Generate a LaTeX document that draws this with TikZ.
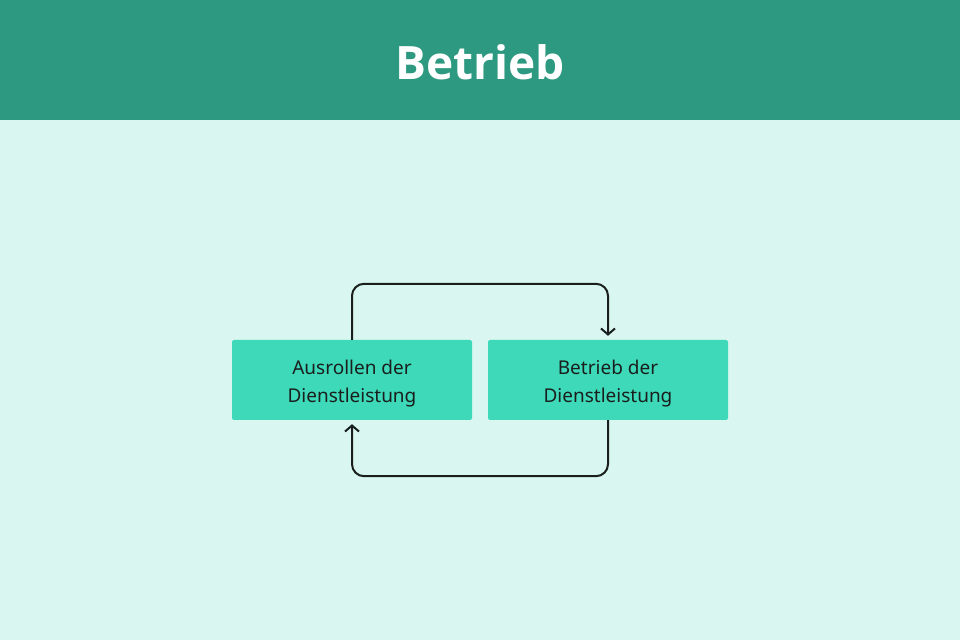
\documentclass[tikz,border=0pt]{standalone}
\usepackage{fontspec}
\setmainfont{Noto Sans}
\newfontfamily\titlefont{Open Sans}
\usetikzlibrary{positioning}
\usetikzlibrary{arrows.meta}
\definecolor{headgreen}{HTML}{2D9980}
\definecolor{paleground}{HTML}{D9F7F0}
\definecolor{stepgreen}{HTML}{3DD9B8}
\definecolor{inkdark}{HTML}{1A1F1E}
\tikzset{
    titletext/.style = {text=white,font=\titlefont\fontsize{46}{52}\selectfont\bfseries},
    stepbox/.style = {rectangle, rounded corners=2pt, fill=stepgreen, minimum width=240pt, minimum height=80pt, align=center, text=inkdark, font=\fontsize{19}{28}\selectfont},
    flow/.style = {-{Straight Barb[length=6pt,width=14pt]}, line width=2pt, draw=inkdark, rounded corners=12pt, shorten >=4pt},
}

\begin{document}
\begin{tikzpicture}[x=1pt,y=1pt]
\useasboundingbox (0,0) rectangle (960,640);
\fill[paleground] (0,0) rectangle (960,640);
\fill[headgreen] (0,520) rectangle (960,640);
\node[titletext] at (480,578) (title) {Betrieb};
\node[stepbox] at (352,260) (ausrollen) {\rule{0pt}{22pt}Ausrollen der\\Dienstleistung};
\node[stepbox] at (608,260) (betrieb) {\rule{0pt}{22pt}Betrieb der\\Dienstleistung};
\draw[flow] (ausrollen.north) -- ++(0,56) -| (betrieb.north);
\draw[flow] (betrieb.south) -- ++(0,-56) -| (ausrollen.south);
\end{tikzpicture}
\end{document}
